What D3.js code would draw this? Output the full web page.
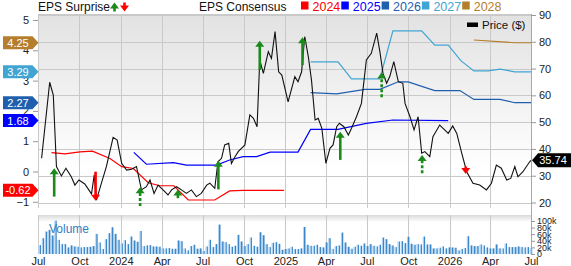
<!DOCTYPE html>
<html>
<head>
<meta charset="utf-8">
<script src="https://cdn.jsdelivr.net/npm/d3@7"></script>
<style>
  body { margin: 0; background: #fff; }
  svg { display: block; font-family: "Liberation Sans", Arial, sans-serif; }
</style>
</head>
<body>
<svg id="chart" width="571" height="266"></svg>
<script>
// ---- data ----
const years = ['2024', '2025', '2026', '2027', '2028'];
const yearColors = ['#ff0000', '#0000ff', '#1f5fae', '#41a5d3', '#b47e2c'];

// EPS consensus per fiscal year: [date, EPS]
const cons2024 = [
  ['2023-07-31', 0.62], ['2023-08-30', 0.58], ['2023-10-02', 0.65], ['2023-10-30', 0.67],
  ['2023-12-08', 0.43], ['2024-01-03', 0.16], ['2024-01-29', 0.10], ['2024-03-02', -0.37],
  ['2024-03-28', -0.47], ['2024-04-28', -0.47], ['2024-05-30', -0.94], ['2024-07-28', -0.94],
  ['2024-08-30', -0.64], ['2024-09-29', -0.62], ['2024-12-29', -0.62]
];
const cons2025 = [
  ['2024-01-30', 0.63], ['2024-02-27', 0.24], ['2024-04-27', 0.29], ['2024-05-26', 0.21],
  ['2024-08-01', 0.21], ['2024-08-30', 0.38], ['2024-09-29', 0.49], ['2024-10-29', 0.49],
  ['2024-11-28', 0.64], ['2025-01-29', 0.64], ['2025-02-26', 1.39], ['2025-04-28', 1.39],
  ['2025-06-30', 1.59], ['2025-08-28', 1.70], ['2025-12-29', 1.68]
];
const cons2026 = [
  ['2025-02-26', 2.60], ['2025-04-25', 2.56], ['2025-06-27', 2.71], ['2025-07-30', 2.71],
  ['2025-09-09', 2.96], ['2025-10-01', 2.96], ['2025-11-29', 2.67], ['2026-01-24', 2.67],
  ['2026-02-24', 2.38], ['2026-04-23', 2.38], ['2026-05-26', 2.27], ['2026-07-01', 2.27]
];
const cons2027 = [
  ['2025-02-26', 3.62], ['2025-04-28', 3.62], ['2025-05-28', 3.06], ['2025-07-30', 3.06],
  ['2025-08-28', 4.64], ['2025-10-31', 4.64], ['2025-11-29', 4.17], ['2025-12-29', 4.17],
  ['2026-01-26', 3.66], ['2026-02-24', 3.32], ['2026-03-28', 3.32], ['2026-04-23', 3.38],
  ['2026-05-26', 3.29], ['2026-07-01', 3.29]
];
const cons2028 = [
  ['2026-02-24', 4.34], ['2026-05-26', 4.25], ['2026-07-01', 4.25]
];
const consensus = [cons2024, cons2025, cons2026, cons2027, cons2028];

// share price
const priceDates = [
  '2023-07-09', '2023-07-27', '2023-08-04', '2023-08-11', '2023-08-22', '2023-09-01', '2023-09-13',
  '2023-09-21', '2023-09-30', '2023-10-13', '2023-10-28', '2023-11-03', '2023-11-08', '2023-11-19',
  '2023-11-30', '2023-12-15', '2023-12-24', '2024-01-03', '2024-01-14', '2024-01-25', '2024-02-05',
  '2024-02-16', '2024-02-27', '2024-03-06', '2024-03-15', '2024-03-24', '2024-04-04', '2024-04-15',
  '2024-04-23', '2024-05-04', '2024-05-15', '2024-05-26', '2024-06-06', '2024-06-17', '2024-06-28',
  '2024-07-10', '2024-07-17', '2024-07-28', '2024-08-04', '2024-08-12', '2024-08-19', '2024-08-28',
  '2024-09-03', '2024-09-11', '2024-09-18', '2024-10-03', '2024-10-14', '2024-10-22', '2024-10-30',
  '2024-11-05', '2024-11-13', '2024-11-24', '2024-12-01', '2024-12-09', '2024-12-17', '2024-12-24',
  '2025-01-07', '2025-01-22', '2025-01-29', '2025-02-06', '2025-02-13', '2025-02-21', '2025-02-28',
  '2025-03-08', '2025-03-15', '2025-03-23', '2025-04-01', '2025-04-10', '2025-04-17', '2025-04-25',
  '2025-05-01', '2025-05-11', '2025-05-21', '2025-05-28', '2025-06-08', '2025-06-19', '2025-06-30',
  '2025-07-11', '2025-07-23', '2025-07-30', '2025-08-06', '2025-08-14', '2025-08-21', '2025-08-30',
  '2025-09-09', '2025-09-19', '2025-09-24', '2025-10-05', '2025-10-14', '2025-10-23', '2025-10-31',
  '2025-11-07', '2025-11-18', '2025-11-25', '2025-12-10', '2025-12-21', '2025-12-29', '2026-01-08',
  '2026-01-17', '2026-01-28', '2026-02-08', '2026-02-22', '2026-03-09', '2026-03-24', '2026-04-04',
  '2026-04-15', '2026-04-26', '2026-05-08', '2026-05-17', '2026-05-26', '2026-06-02', '2026-06-13',
  '2026-06-28', '2026-07-01'
];
const priceValues = [
  36.5, 64.9, 60.1, 33.4, 29.9, 32.8, 29.6,
  26.5, 28.4, 26.9, 23.2, 30.3, 20.9, 27.2,
  33.4, 44.3, 43.3, 34.6, 32.1, 32.4, 33.4,
  24.7, 25.9, 28.4, 23.4, 26.5, 24.7, 22.8,
  24.7, 25.9, 24.7, 23.4, 24.7, 22.2, 23.4,
  26.5, 27.2, 25.3, 35.2, 36.5, 41.5, 42.1,
  34.6, 37.1, 39.0, 41.5, 52.7, 51.4, 48.3,
  73.2, 68.2, 76.3, 73.8, 83.8, 68.8, 67.6,
  57.6, 67.0, 65.1, 68.8, 81.9, 74.4, 65.7,
  50.8, 51.4, 47.7, 34.6, 40.2, 41.5, 48.3,
  49.6, 48.3, 45.2, 47.7, 52.0, 57.0, 73.2,
  75.7, 83.2, 76.3, 68.2, 64.5, 67.0, 72.6,
  65.1, 64.5, 57.0, 52.0, 47.1, 52.0, 38.4,
  39.0, 37.1, 44.6, 48.9, 47.1, 45.8, 48.6,
  45.8, 38.4, 31.5, 27.2, 26.5, 24.7, 27.2,
  34.0, 32.8, 28.4, 29.0, 33.4, 29.6, 31.5,
  35.2, 35.74
];
const lastPrice = 35.74;

// EPS surprise arrows (drawn on the price scale: tail -> tip)
const surpriseDates = ['2023-08-06', '2023-11-06', '2024-02-13', '2024-05-07', '2024-08-05', '2024-11-05',
  '2025-02-08', '2025-05-03', '2025-08-03', '2025-11-01', '2026-02-06'];
const surpriseFrom = [22.2, 31.5, 18.7, 21.6, 24.9, 69.5, 71.3, 35.9, 59.3, 30.9, 33.4];
const surpriseTo = [32.8, 20.7, 25.7, 24.9, 35.6, 80.4, 81.7, 46.4, 68.5, 37.7, 30.6];
const surpriseDashed = [false, false, true, false, false, false, false, false, true, true, false];

// weekly volume, thousands
const volumeStart = '2023-07-05';
const volumeK = [
  27, 48, 68, 73, 56, 101, 43, 30, 30, 20, 26, 23, 22, 20, 21, 21, 22, 24, 61, 35, 15, 45, 63, 81, 61,
  43, 32, 42, 30, 53, 41, 37, 70, 24, 26, 27, 23, 23, 22,
  17, 17, 18, 16, 16, 41, 39, 17, 11, 24, 28, 16, 17, 9, 23, 43, 21, 30, 89, 38, 36, 30, 22, 25, 58,
  38, 24, 30, 50, 25, 22, 66, 57, 30, 21, 34, 36, 31, 13,
  15, 17, 22, 15, 15, 17, 82, 28, 25, 25, 28, 21, 20, 35, 48, 15, 24, 26, 65, 35, 22, 16, 22, 28, 25,
  32, 24, 30, 25, 23, 28, 50, 45, 30, 26, 21, 38, 39, 33, 52,
  31, 28, 30, 29, 53, 29, 29, 17, 17, 19, 23, 17, 20, 20, 19, 11, 15, 18, 54, 26, 24, 24, 29, 26, 20,
  17, 17, 29, 17, 17, 32, 21, 21, 21, 23, 21, 20, 21, 18
];

// axes
const xTickDates = ['2023-07-01', '2023-10-01', '2024-01-01', '2024-04-01', '2024-07-01', '2024-10-01',
  '2025-01-01', '2025-04-01', '2025-07-01', '2025-10-01', '2026-01-01', '2026-04-01', '2026-07-01'];
const xTickLabels = ['Jul', 'Oct', '2024', 'Apr', 'Jul', 'Oct', '2025', 'Apr', 'Jul', 'Oct', '2026', 'Apr', 'Jul'];
const priceTicks = [20, 30, 40, 50, 60, 70, 80, 90];
const epsTicks = [-1, 0, 1, 2, 3, 4, 5];
const volTicks = [0, 20, 40, 60, 80, 100];

// ---- layout ----
const parse = d3.timeParse('%Y-%m-%d');
const plotL = 38, plotR = 531;
const mainTop = 14, mainBottom = 208;
const volTop = 215, volBottom = 254;

const svg = d3.select('#chart');

const x = d3.scaleTime()
  .domain([parse('2023-07-01'), parse('2026-07-01')])
  .range([plotL, plotR]);
const yPrice = d3.scaleLinear().domain([20, 90]).range([202.5, 15]);
const yEps = d3.scaleLinear().domain([0, 5]).range([171.5, 20]);
const yVol = d3.scaleLinear().domain([0, 100]).range([volBottom, 221]);

// gradients
const defs = svg.append('defs');
const gMain = defs.append('linearGradient').attr('id', 'bgMain')
  .attr('x1', 0).attr('y1', 0).attr('x2', 0).attr('y2', 1);
gMain.append('stop').attr('offset', '0%').attr('stop-color', '#e2e2e2');
gMain.append('stop').attr('offset', '80%').attr('stop-color', '#ffffff');
const gVol = defs.append('linearGradient').attr('id', 'bgVol')
  .attr('x1', 0).attr('y1', 0).attr('x2', 0).attr('y2', 1);
gVol.append('stop').attr('offset', '0%').attr('stop-color', '#dadada');
gVol.append('stop').attr('offset', '18%').attr('stop-color', '#ffffff');
const gBar = defs.append('linearGradient').attr('id', 'barFill')
  .attr('x1', 0).attr('y1', 0).attr('x2', 1).attr('y2', 0);
gBar.append('stop').attr('offset', '0%').attr('stop-color', '#a9d0f0');
gBar.append('stop').attr('offset', '45%').attr('stop-color', '#a9d0f0');
gBar.append('stop').attr('offset', '55%').attr('stop-color', '#3d86c8');
gBar.append('stop').attr('offset', '100%').attr('stop-color', '#3d86c8');

svg.append('rect')
  .attr('x', plotL).attr('y', mainTop)
  .attr('width', plotR - plotL).attr('height', mainBottom - mainTop)
  .attr('fill', 'url(#bgMain)');
svg.append('rect')
  .attr('x', plotL).attr('y', volTop)
  .attr('width', plotR - plotL).attr('height', volBottom - volTop)
  .attr('fill', 'url(#bgVol)');

// grid
const grid = svg.append('g').attr('stroke', '#c9c9c9').attr('stroke-width', 1);
grid.selectAll('.hp')
  .data(priceTicks)
  .enter()
  .append('line')
  .attr('x1', plotL).attr('x2', plotR)
  .attr('y1', (d) => Math.round(yPrice(d)) + 0.5)
  .attr('y2', (d) => Math.round(yPrice(d)) + 0.5);
xTickDates.forEach((d) => {
  const xx = Math.round(x(parse(d))) + 0.5;
  grid.append('line').attr('x1', xx).attr('x2', xx).attr('y1', mainTop).attr('y2', mainBottom);
  grid.append('line').attr('x1', xx).attr('x2', xx).attr('y1', volTop).attr('y2', volBottom);
});
grid.append('line').attr('x1', plotL).attr('x2', plotR)
  .attr('y1', mainTop + 0.5).attr('y2', mainTop + 0.5);

// volume bars
svg.append('g')
  .selectAll('rect')
  .data(volumeK)
  .enter()
  .append('rect')
  .attr('x', (d, i) => x(d3.timeWeek.offset(parse(volumeStart), i)) - 1.2)
  .attr('y', (d) => yVol(d))
  .attr('width', 2.4)
  .attr('height', (d) => volBottom - yVol(d))
  .attr('fill', 'url(#barFill)');

svg.append('text')
  .attr('x', 49).attr('y', 233)
  .attr('fill', '#2f7fc6')
  .style('font-size', '12px')
  .text('Volume');

// consensus lines
const consLine = d3.line()
  .x((d) => x(parse(d[0])))
  .y((d) => yEps(d[1]));
consensus.forEach((s, i) => {
  svg.append('path')
    .attr('d', consLine(s))
    .attr('fill', 'none')
    .attr('stroke', yearColors[i])
    .attr('stroke-width', 1.2);
});

// price line
const priceLine = d3.line()
  .x((d, i) => x(parse(priceDates[i])))
  .y((d) => yPrice(d));
svg.append('path')
  .attr('d', priceLine(priceValues))
  .attr('fill', 'none')
  .attr('stroke', '#111')
  .attr('stroke-width', 1.1);

// surprise arrows
function arrow(g, xx, y0, y1, color, dashed) {
  const up = y1 < y0;
  const head = up ? 6 : -6;
  g.append('line')
    .attr('x1', xx).attr('x2', xx)
    .attr('y1', y0).attr('y2', y1 + head * 0.8)
    .attr('stroke', color)
    .attr('stroke-width', 2.6)
    .attr('stroke-dasharray', dashed ? '3,2' : null);
  g.append('path')
    .attr('d', `M${xx},${y1}L${xx - 4.5},${y1 + head}L${xx + 4.5},${y1 + head}Z`)
    .attr('fill', color);
}
const arrows = svg.append('g');
surpriseDates.forEach((d, i) => {
  const y0 = yPrice(surpriseFrom[i]);
  const y1 = yPrice(surpriseTo[i]);
  const color = y1 < y0 ? '#1a8a1a' : '#ff0000';
  arrow(arrows, x(parse(d)), y0, y1, color, surpriseDashed[i]);
});

// right axis line
svg.append('line')
  .attr('x1', plotR + 0.5).attr('x2', plotR + 0.5)
  .attr('y1', mainTop).attr('y2', volBottom)
  .attr('stroke', '#a8a8a8');

// axes
const priceAxis = svg.append('g')
  .attr('transform', `translate(${plotR}, 0)`)
  .call(d3.axisRight(yPrice).tickValues(priceTicks).tickSize(5).tickPadding(3));
const volAxis = svg.append('g')
  .attr('transform', `translate(${plotR}, 0)`)
  .call(d3.axisRight(yVol).tickValues(volTicks).tickSize(4).tickPadding(2)
    .tickFormat((d) => (d === 0 ? '0' : d + 'k')));
const epsAxis = svg.append('g')
  .attr('transform', `translate(${plotL}, 0)`)
  .call(d3.axisLeft(yEps).tickValues(epsTicks).tickSize(5).tickPadding(4)
    .tickFormat(d3.format('d')));
const xAxis = svg.append('g')
  .attr('transform', `translate(0, ${volBottom})`)
  .call(d3.axisBottom(x).tickValues(xTickDates.map(parse)).tickSize(0).tickPadding(3)
    .tickFormat((d, i) => xTickLabels[i]));

[priceAxis, volAxis, epsAxis, xAxis].forEach((a) => {
  a.select('.domain').remove();
  a.selectAll('line').attr('stroke', '#999');
  a.selectAll('text').attr('fill', '#222').style('font-family', '"Liberation Sans", Arial, sans-serif');
});
priceAxis.selectAll('text').style('font-size', '11px');
epsAxis.selectAll('text').style('font-size', '11px');
xAxis.selectAll('text').style('font-size', '11px');
volAxis.selectAll('text').style('font-size', '9px');

// left EPS callouts (last consensus value per year)
const callouts = svg.append('g');
consensus.forEach((s, i) => {
  const v = s[s.length - 1][1];
  const cy = yEps(v);
  callouts.append('path')
    .attr('d', `M3,${cy - 6.5}H32.5L38.5,${cy}L32.5,${cy + 6.5}H3Z`)
    .attr('fill', yearColors[i]);
  callouts.append('text')
    .attr('x', 18).attr('y', cy)
    .attr('dy', '0.36em')
    .attr('text-anchor', 'middle')
    .attr('fill', '#fff')
    .style('font-size', '11px')
    .text(v.toFixed(2));
});

// right price callout
const py = yPrice(lastPrice);
svg.append('path')
  .attr('d', `M${plotR + 1},${py}L${plotR + 7},${py - 7}H571V${py + 7}H${plotR + 7}Z`)
  .attr('fill', '#000');
svg.append('text')
  .attr('x', 553).attr('y', py)
  .attr('dy', '0.36em')
  .attr('text-anchor', 'middle')
  .attr('fill', '#fff')
  .style('font-size', '11px')
  .text(lastPrice.toFixed(2));

// header
svg.append('text')
  .attr('x', 38).attr('y', 11)
  .style('font-size', '12px')
  .attr('fill', '#111')
  .text('EPS Surprise');
arrow(svg, 114.5, 11.5, 2.5, '#1a8a1a', false);
arrow(svg, 124.5, 2.5, 11.5, '#ff0000', false);

svg.append('text')
  .attr('x', 199).attr('y', 11)
  .style('font-size', '12px')
  .attr('fill', '#111')
  .text('EPS Consensus');

const legend = svg.append('g')
  .selectAll('g')
  .data(years)
  .enter()
  .append('g')
  .attr('transform', (d, i) => `translate(${301 + i * 40.3}, 0)`);
legend.append('rect')
  .attr('x', 0).attr('y', 1.5)
  .attr('width', 7.5).attr('height', 8)
  .attr('fill', (d, i) => yearColors[i]);
legend.append('text')
  .attr('x', 11.5).attr('y', 11)
  .style('font-size', '12.5px')
  .attr('fill', (d, i) => yearColors[i])
  .text((d) => d);

svg.append('rect')
  .attr('x', 467).attr('y', 22.5)
  .attr('width', 11).attr('height', 4.5)
  .attr('fill', '#000');
svg.append('text')
  .attr('x', 482).attr('y', 29)
  .style('font-size', '11.5px')
  .attr('fill', '#111')
  .text('Price ($)');
</script>
</body>
</html>
